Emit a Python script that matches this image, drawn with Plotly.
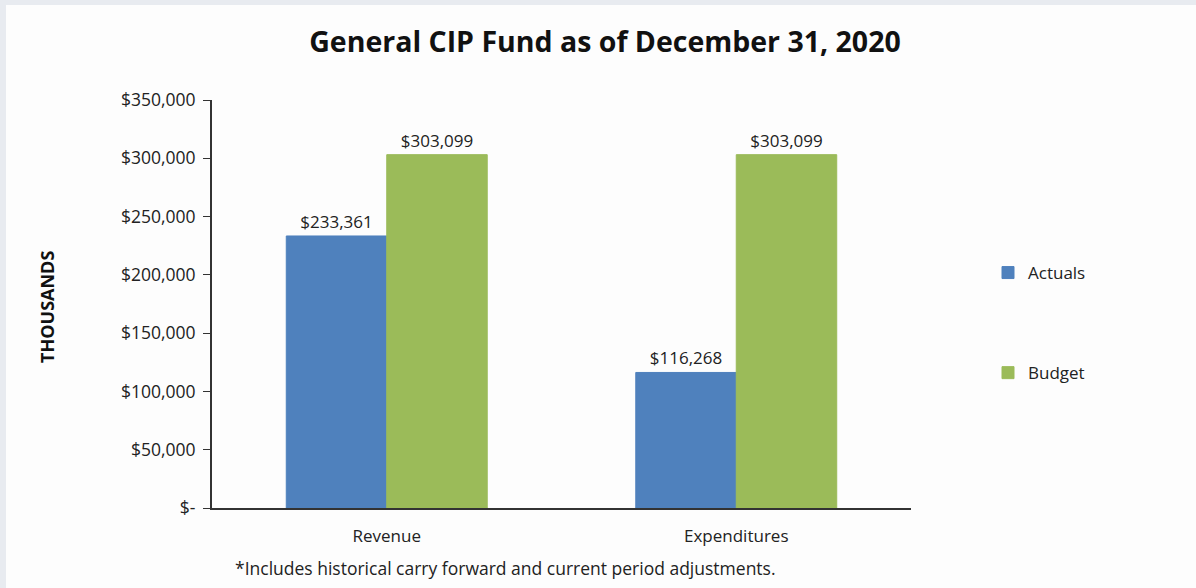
import plotly.graph_objects as go

categories = ["Revenue", "Expenditures"]
actuals = [233361, 116268]
budget = [303099, 303099]
tick_vals = [0, 50000, 100000, 150000, 200000, 250000, 300000, 350000]
tick_text = ["$-", "$50,000", "$100,000", "$150,000", "$200,000", "$250,000", "$300,000", "$350,000"]

FONT = "Open Sans"
W, H = 1196, 588
L, R, T, B = 212, 285, 100, 80
PW = W - L - R
PH = H - T - B

def px_x(x):
    return (x - L) / PW

def px_y(y):
    return (H - B - y) / PH

BLUE = "#4f81bd"
GREEN = "#9bbb59"

fig = go.Figure()
fig.add_trace(go.Bar(
    name="Actuals", x=categories, y=actuals, marker_color=BLUE,
    marker_line=dict(width=1, color=BLUE),
    texttemplate="$%{y:,}", textposition="outside", cliponaxis=False,
    textfont=dict(family=FONT, size=17, color="#222222"), legendgroup="a",
))
fig.add_trace(go.Bar(
    name="Budget", x=categories, y=budget, marker_color=GREEN,
    marker_line=dict(width=1, color=GREEN),
    texttemplate="$%{y:,}", textposition="outside", cliponaxis=False,
    textfont=dict(family=FONT, size=17, color="#222222"), legendgroup="b",
))

fig.update_layout(
    width=W, height=H,
    margin=dict(l=L, r=R, t=T, b=B, pad=0),
    paper_bgcolor="#e8ebf0",
    plot_bgcolor="rgba(0,0,0,0)",
    barmode="group", bargap=0.425, bargroupgap=0,
    font=dict(family=FONT, size=17, color="#222222"),
    title=dict(text="<b>General CIP Fund as of December 31, 2020</b>",
               x=px_x(605), xref="paper", xanchor="center",
               y=1 - 42 / H, yanchor="middle",
               font=dict(family=FONT, size=28.5, color="#111111")),
    legend=dict(x=px_x(988), xanchor="left", y=px_y(323), yanchor="middle",
                tracegroupgap=75, font=dict(family=FONT, size=17, color="#222222"),
                bgcolor="rgba(0,0,0,0)", itemwidth=30),
    showlegend=True,
    xaxis=dict(showline=True, linecolor="#333333", linewidth=2, ticks="",
               showgrid=False, tickfont=dict(family=FONT, size=17, color="#222222"),
               range=[-0.5, 1.5], ticklabelstandoff=12),
    yaxis=dict(range=[0, 350000], tickvals=tick_vals, ticktext=tick_text,
               showline=True, linecolor="#333333", linewidth=2, ticks="outside",
               ticklen=7, tickcolor="#333333", showgrid=False, zeroline=False,
               ticklabelstandoff=4,
               tickfont=dict(family=FONT, size=17.5, color="#222222")),
    shapes=[dict(type="rect", xref="paper", yref="paper", layer="below",
                 x0=px_x(6), x1=px_x(W + 5), y0=px_y(H + 5), y1=px_y(5),
                 fillcolor="#fdfdfd", line=dict(width=0))],
    annotations=[
        dict(text="<b>THOUSANDS</b>", textangle=-90, xref="paper", yref="paper",
             x=px_x(47), y=px_y(307), xanchor="center", yanchor="middle",
             showarrow=False,
             font=dict(family=FONT, size=18, color="#111111")),
        dict(text="*Includes historical carry forward and current period adjustments.",
             xref="paper", yref="paper", x=px_x(505), y=px_y(568),
             xanchor="center", yanchor="middle", showarrow=False,
             font=dict(family=FONT, size=17.5, color="#222222")),
    ],
)

fig.write_html("out.html")
